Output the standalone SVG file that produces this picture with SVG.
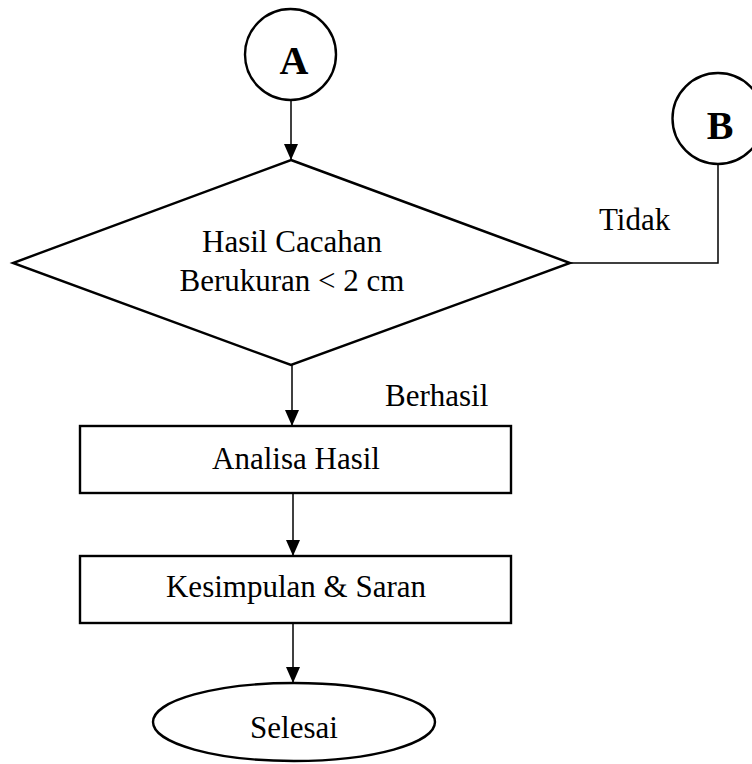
<svg xmlns="http://www.w3.org/2000/svg" width="752" height="764" viewBox="0 0 752 764">
<defs>
<marker id="arr" viewBox="0 0 16 14" refX="16" refY="7" markerWidth="16" markerHeight="14" markerUnits="userSpaceOnUse" orient="auto">
<path d="M0,0 L16,7 L0,14 Z" fill="#000"/>
</marker>
<style>
.shape{fill:#fff;stroke:#000;stroke-width:2.4}
.conn{fill:none;stroke:#000;stroke-width:1.5}
.t{font-family:"Liberation Serif","Times New Roman",serif;font-size:31px;fill:#000}
.c{text-anchor:middle}
.b{font-weight:bold;font-size:40px}
</style>
</defs>
<rect width="752" height="764" fill="#fff"/>
<g id="connectors">
<path class="conn" d="M291,100 V160" marker-end="url(#arr)"/>
<path class="conn" d="M292,365 V426" marker-end="url(#arr)"/>
<path class="conn" d="M293,493 V556" marker-end="url(#arr)"/>
<path class="conn" d="M293,623 V683" marker-end="url(#arr)"/>
<path class="conn" d="M570,263 H718 V164"/>
</g>
<g id="nodeA">
<circle class="shape" cx="290.5" cy="54.5" r="45.5"/>
<text class="t c b" x="294" y="74">A</text>
</g>
<g id="nodeB">
<circle class="shape" cx="718" cy="118.5" r="45.5"/>
<text class="t c b" x="720" y="139">B</text>
</g>
<g id="decision">
<polygon class="shape" points="291,160 570,263 291,365 13,263"/>
<text class="t c" x="292" y="252">Hasil Cacahan</text>
<text class="t c" x="292" y="291">Berukuran &lt; 2 cm</text>
</g>
<g id="labelTidak">
<text class="t" x="599" y="230">Tidak</text>
</g>
<g id="labelBerhasil">
<text class="t" x="385" y="406">Berhasil</text>
</g>
<g id="analisa">
<rect class="shape" x="80" y="426" width="431" height="67"/>
<text class="t c" x="296" y="469">Analisa Hasil</text>
</g>
<g id="kesimpulan">
<rect class="shape" x="80" y="556" width="431" height="67"/>
<text class="t c" x="296" y="597">Kesimpulan &amp; Saran</text>
</g>
<g id="selesai">
<ellipse class="shape" cx="294" cy="722" rx="141" ry="39"/>
<text class="t c" x="294" y="738">Selesai</text>
</g>
</svg>
